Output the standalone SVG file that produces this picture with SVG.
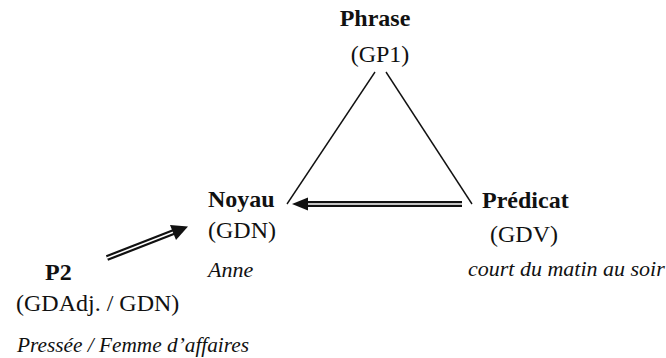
<svg xmlns="http://www.w3.org/2000/svg" width="666" height="358" viewBox="0 0 666 358">
<style>
.t{font-family:'Liberation Serif','DejaVu Serif','Times New Roman',serif;font-size:24px;fill:#111}
.b{font-weight:bold}
.i{font-style:italic;font-size:22px}
.ln{stroke:#111;stroke-width:1.4;fill:none}
.dbl{stroke:#111;stroke-width:6;fill:none}
.mid{stroke:#fff;stroke-width:1.6;fill:none}
.head{fill:#111}
</style>
<rect width="666" height="358" fill="#fff"/>
<g id="connectors">
<line class="ln" x1="375" y1="72" x2="287" y2="204"/>
<line class="ln" x1="386" y1="72" x2="472" y2="204"/>
<line class="dbl" x1="462" y1="204" x2="305" y2="204"/>
<line class="mid" x1="462" y1="204" x2="305" y2="204"/>
<polygon class="head" points="292,204 308,197.5 308,210.5"/>
<line class="dbl" x1="107" y1="258" x2="175" y2="231.5"/>
<line class="mid" x1="107" y1="258" x2="175" y2="231.5"/>
<polygon class="head" points="188,226.5 170,225 176,240"/>
</g>
<g id="phrase">
<text class="t b" x="375" y="26" text-anchor="middle">Phrase</text>
<text class="t" x="380" y="62" text-anchor="middle">(GP1)</text>
</g>
<g id="noyau">
<text class="t b" x="208" y="207">Noyau</text>
<text class="t" x="208" y="238">(GDN)</text>
<text class="t i" x="208" y="277">Anne</text>
</g>
<g id="predicat">
<text class="t b" x="482" y="208">Prédicat</text>
<text class="t" x="524" y="242" text-anchor="middle">(GDV)</text>
<text class="t i" x="468" y="276">court du matin au soir</text>
</g>
<g id="p2">
<text class="t b" x="45" y="280">P2</text>
<text class="t" x="16" y="311">(GDAdj. / GDN)</text>
<text class="t i" x="17" y="352" style="font-size:21.3px">Pressée / Femme d’affaires</text>
</g>
</svg>
